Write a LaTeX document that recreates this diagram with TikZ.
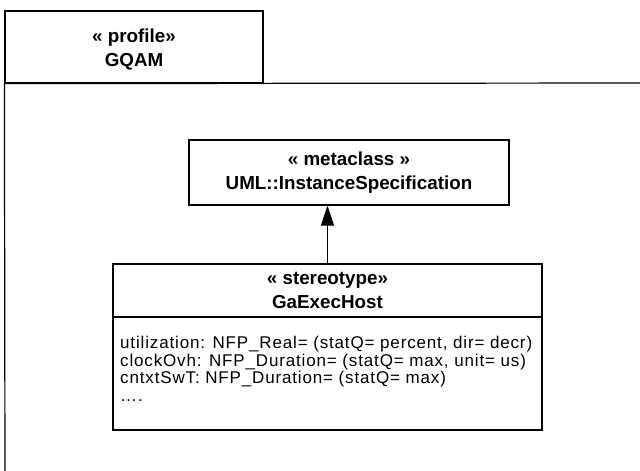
\documentclass[tikz,border=0pt]{standalone}
\usepackage{fontspec}
\setmainfont{Liberation Sans}
\newfontfamily\attrfont[LetterSpace=5]{Liberation Sans}
\usetikzlibrary{arrows.meta}
\begin{document}
\begin{tikzpicture}[x=1pt,y=-1pt,
  box/.style={draw=black,line width=1.2pt,rectangle,inner sep=0pt,anchor=center},
  titletext/.style={font=\bfseries\fontsize{18.8}{24}\selectfont,align=center,inner sep=0pt},
  attrtext/.style={font=\attrfont\fontsize{17}{17.7}\selectfont,align=left,anchor=north west,inner sep=0pt},
  gen/.style={line width=0.8pt,-{Triangle[length=20pt,width=13pt]}}]
\useasboundingbox (0,0) rectangle (640,471);
% profile tab and body
\node[box,minimum width=258pt,minimum height=72pt] (tab) at (134,47) {};
\node[titletext] (tabtitle) at ([yshift=-3pt]tab.center) {« profile»\\GQAM};
\coordinate (bodyright) at (645,83);
\coordinate (bodybottom) at (5,480);
\draw[line width=1.2pt] (bodybottom) -- (tab.south west) -- (bodyright);
% metaclass
\node[box,minimum width=320pt,minimum height=65pt,titletext] (meta) at (349,172.5) {« metaclass »\\UML::InstanceSpecification};
% stereotype
\node[box,minimum width=429pt,minimum height=53pt,titletext] (head) at (327.5,290.5) {« stereotype»\\GaExecHost};
\node[box,minimum width=429pt,minimum height=113pt] (attrs) at (327.5,373.5) {};
\node[attrtext] (attrlist) at (120,336) {utilization: NFP\_Real= (statQ= percent, dir= decr)\\clockOvh: NFP\_Duration= (statQ= max, unit= us)\\cntxtSwT: NFP\_Duration= (statQ= max)\\….};
\draw[gen] (head.north) -- (head.north |- meta.south);
\end{tikzpicture}
\end{document}
